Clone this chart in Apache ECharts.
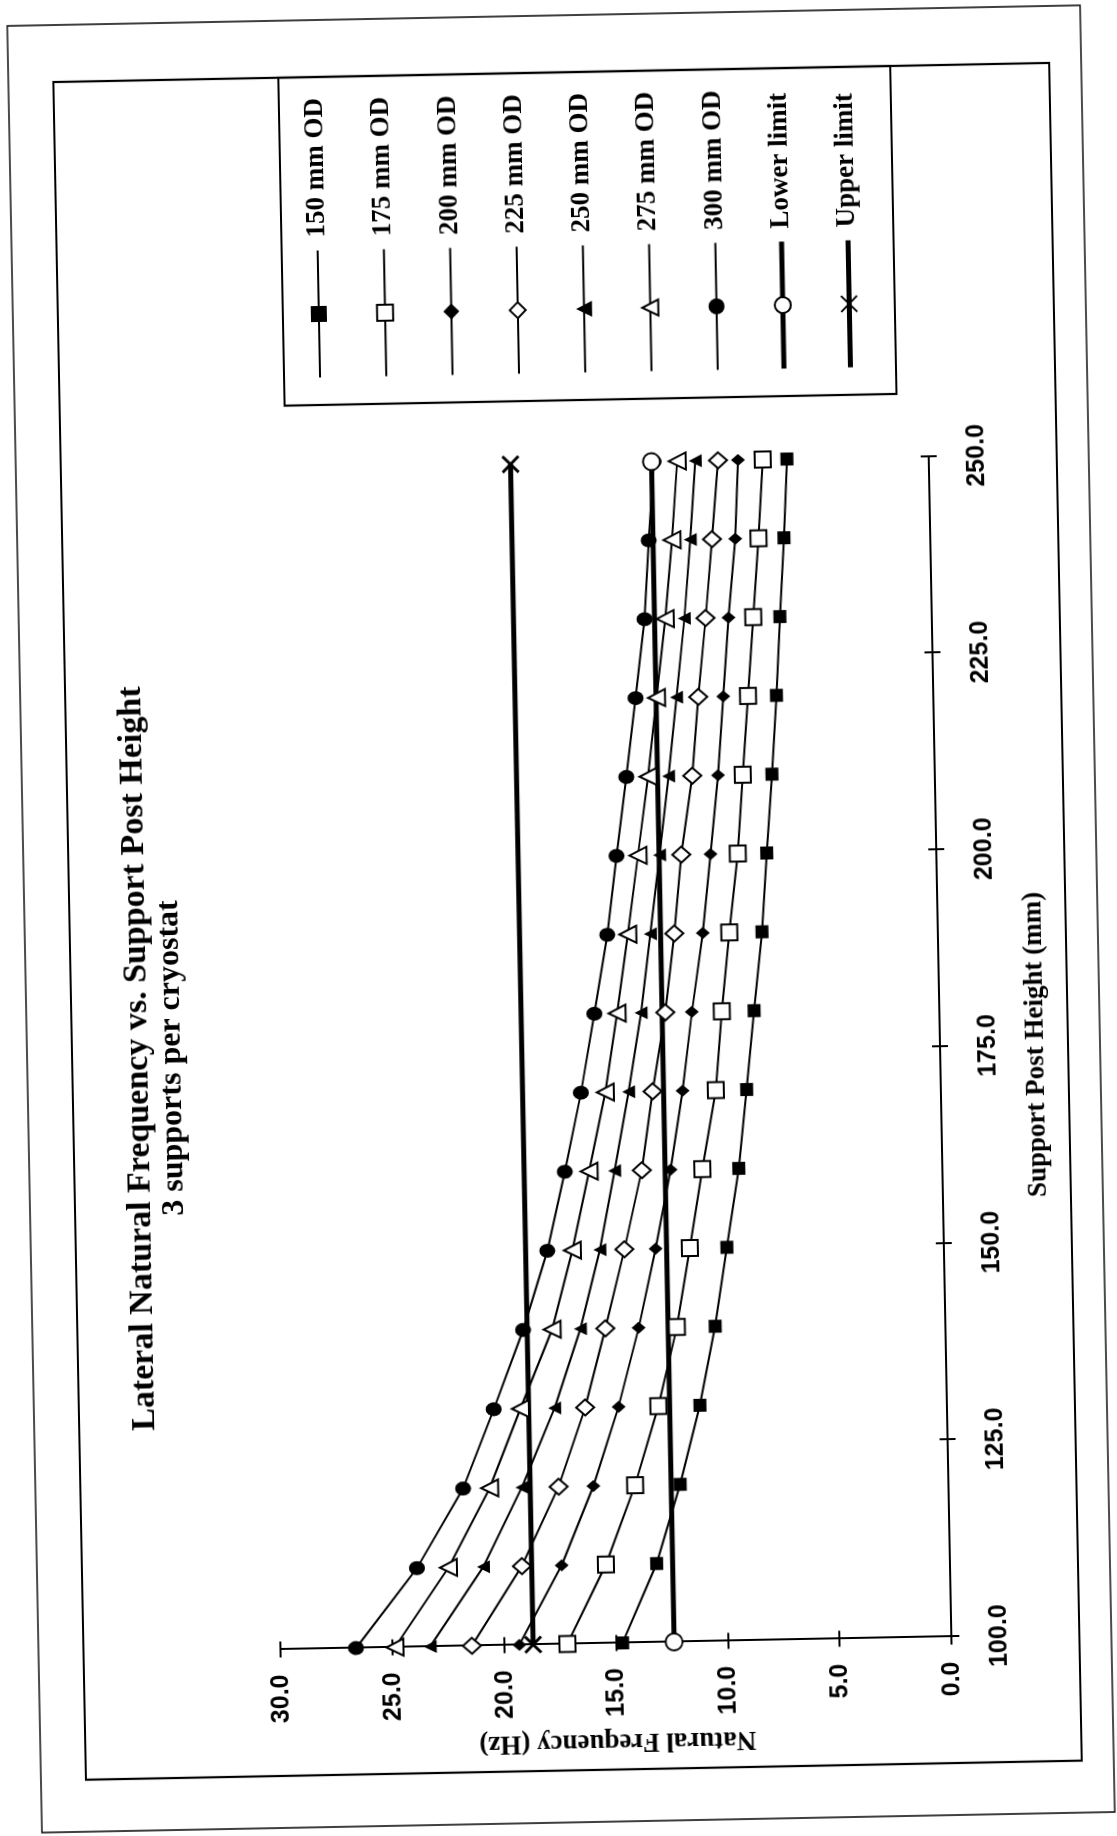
<!DOCTYPE html>
<html>
<head>
<meta charset="utf-8">
<script src="https://cdn.jsdelivr.net/npm/echarts@6/dist/echarts.min.js"></script>
<style>
html,body{margin:0;padding:0;background:#fff;overflow:hidden;width:1117px;height:1836px;}
#wrap{position:absolute;left:-359.5px;top:359.5px;width:1836px;height:1117px;transform:rotate(-91.1deg);transform-origin:50% 50%;}
</style>
</head>
<body>
<div id="wrap"></div>
<script>
// ---- data ----
const heights = [100,110,120,130,140,150,160,170,180,190,200,210,220,230,240,250];
const od150 = [14.70,13.11,11.99,11.04,10.29,9.70,9.10,8.68,8.28,7.86,7.58,7.28,7.01,6.79,6.54,6.34];
const od175 = [17.17,15.38,14.01,12.90,12.00,11.36,10.73,10.06,9.72,9.32,8.87,8.58,8.28,7.98,7.68,7.42];
const od200 = [19.32,17.36,15.87,14.68,13.71,12.89,12.15,11.55,11.06,10.51,10.09,9.69,9.39,9.09,8.72,8.53];
const od225 = [21.44,19.14,17.43,16.17,15.20,14.28,13.44,12.89,12.25,11.78,11.40,10.84,10.51,10.11,9.76,9.42];
const od250 = [23.31,20.86,19.07,17.54,16.32,15.38,14.65,13.96,13.33,12.85,12.37,11.90,11.48,11.06,10.73,10.44];
const od275 = [24.88,22.42,20.51,19.07,17.58,16.61,15.79,15.00,14.41,13.86,13.34,12.82,12.37,11.92,11.55,11.25];
const od300 = [26.62,23.83,21.70,20.26,18.88,17.73,16.88,16.09,15.42,14.78,14.30,13.79,13.31,12.84,12.59,12.30];
const limitHeights = [100, 250];
const lowerLimit = [12.4, 12.4];
const upperLimit = [18.7, 18.7];
const seriesNames = ['150 mm OD','175 mm OD','200 mm OD','225 mm OD','250 mm OD','275 mm OD','300 mm OD','Lower limit','Upper limit'];
const heightTicks = [100, 125, 150, 175, 200, 225, 250];
const freqTicks = [0, 5, 10, 15, 20, 25, 30];

const titleText = 'Lateral Natural Frequency vs. Support Post Height';
const subTitleText = '3 supports per cryostat';
const xName = 'Support Post Height (mm)';
const yName = 'Natural Frequency (Hz)';

// ---- chart ----
const chart = echarts.init(document.getElementById('wrap'), null, {renderer:'canvas'});
const SERIF = '"Liberation Serif","Times New Roman",serif';
const SANS = '"Liberation Sans",Arial,sans-serif';
const pair = (xs, ys) => xs.map((x, i) => [x, ys[i]]);
const X_PATH = 'path://M0 0L10 10M10 0L0 10';

function mk(name, xs, ys, symbol, size, filled, lw) {
  return {
    name, type: 'line', data: pair(xs, ys), symbol, symbolSize: size,
    showAllSymbol: true, silent: true, animation: false,
    xAxisIndex: 0, yAxisIndex: 0,
    lineStyle: {color: '#000', width: lw},
    itemStyle: filled
      ? {color: '#000', borderColor: '#000', borderWidth: symbol === X_PATH ? 3 : 0}
      : {color: '#fff', borderColor: '#000', borderWidth: 2},
    emphasis: {disabled: true}
  };
}

const gridBox = {left: 192.5, right: 463, top: 266, bottom: 180};
const axisTickStyle = {color: '#000', width: 2};
const hMin = heightTicks[0], hMax = heightTicks[heightTicks.length - 1], hStep = heightTicks[1] - heightTicks[0];
const fMin = freqTicks[0], fMax = freqTicks[freqTicks.length - 1], fStep = freqTicks[1] - freqTicks[0];

const legendData = seriesNames.map((n, i) => i >= 7 ? {name: n, lineStyle: {width: 5}} : {name: n});

const option = {
  animation: false,
  backgroundColor: 'transparent',
  title: {
    text: titleText, subtext: subTitleText,
    left: 786, top: 120, textAlign: 'center', padding: 0, itemGap: 0,
    textStyle: {fontFamily: SERIF, fontWeight: 'bold', fontSize: 34, lineHeight: 30, color: '#000'},
    subtextStyle: {fontFamily: SERIF, fontWeight: 'bold', fontSize: 32, lineHeight: 29, color: '#000'}
  },
  legend: {
    orient: 'vertical', left: 1461, top: 315, padding: 0,
    itemWidth: 127, itemHeight: 20, itemGap: 36.3, selectedMode: false,
    textStyle: {fontFamily: SERIF, fontWeight: 'bold', fontSize: 27, lineHeight: 30, color: '#000', padding: [0, 0, 0, 8]},
    data: legendData
  },
  grid: [Object.assign({}, gridBox), Object.assign({}, gridBox)],
  xAxis: [
    {
      gridIndex: 0, type: 'value', min: hMin, max: hMax, interval: hStep,
      axisLine: {show: true, lineStyle: {color: '#000', width: 2}},
      axisTick: {show: true, length: 8, lineStyle: axisTickStyle},
      axisLabel: {margin: 36, formatter: v => v.toFixed(1), fontFamily: SANS, fontWeight: 'bold', fontSize: 25, color: '#000'},
      splitLine: {show: false},
      name: xName, nameLocation: 'middle', nameGap: 83,
      nameTextStyle: {fontFamily: SERIF, fontWeight: 'bold', fontSize: 27, color: '#000'}
    },
    {
      gridIndex: 1, type: 'value', min: hMin, max: hMax, interval: hStep,
      axisLine: {show: false}, axisLabel: {show: false}, splitLine: {show: false},
      axisTick: {show: true, inside: true, length: 8, lineStyle: axisTickStyle}
    }
  ],
  yAxis: [
    {
      gridIndex: 0, type: 'value', min: fMin, max: fMax, interval: fStep,
      axisLine: {show: true, lineStyle: {color: '#000', width: 2}},
      axisTick: {show: true, length: 8, lineStyle: axisTickStyle},
      axisLabel: {margin: 25, formatter: v => v.toFixed(1), fontFamily: SANS, fontWeight: 'bold', fontSize: 25, color: '#000'},
      splitLine: {show: false},
      name: yName, nameLocation: 'middle', nameGap: 85,
      nameTextStyle: {fontFamily: SERIF, fontWeight: 'bold', fontSize: 27, color: '#000'}
    },
    {
      gridIndex: 1, type: 'value', min: fMin, max: fMax, interval: fStep,
      axisLine: {show: false}, axisLabel: {show: false}, splitLine: {show: false},
      axisTick: {show: true, inside: true, length: 8, lineStyle: axisTickStyle}
    }
  ],
  graphic: [
    {type: 'rect', silent: true, shape: {x: 14, y: 24, width: 1807, height: 1073}, style: {fill: 'none', stroke: '#111', lineWidth: 1.6}},
    {type: 'rect', silent: true, shape: {x: 66, y: 69, width: 1698, height: 996}, style: {fill: 'none', stroke: '#000', lineWidth: 2.2}},
    {type: 'rect', silent: true, shape: {x: 1436, y: 294, width: 328, height: 612}, style: {fill: 'none', stroke: '#000', lineWidth: 2.2}}
  ],
  series: [
    mk(seriesNames[0], heights, od150, 'rect', 13, true, 2),
    mk(seriesNames[1], heights, od175, 'rect', 16, false, 2),
    mk(seriesNames[2], heights, od200, 'diamond', [12, 14], true, 2),
    mk(seriesNames[3], heights, od225, 'diamond', [16, 18], false, 2),
    mk(seriesNames[4], heights, od250, 'triangle', 13, true, 2),
    mk(seriesNames[5], heights, od275, 'triangle', 17, false, 2),
    mk(seriesNames[6], heights, od300, 'circle', [14, 16], true, 2),
    mk(seriesNames[7], limitHeights, lowerLimit, 'circle', 17, false, 5),
    mk(seriesNames[8], limitHeights, upperLimit, X_PATH, 16, true, 5)
  ]
};
chart.setOption(option);
</script>
</body>
</html>
